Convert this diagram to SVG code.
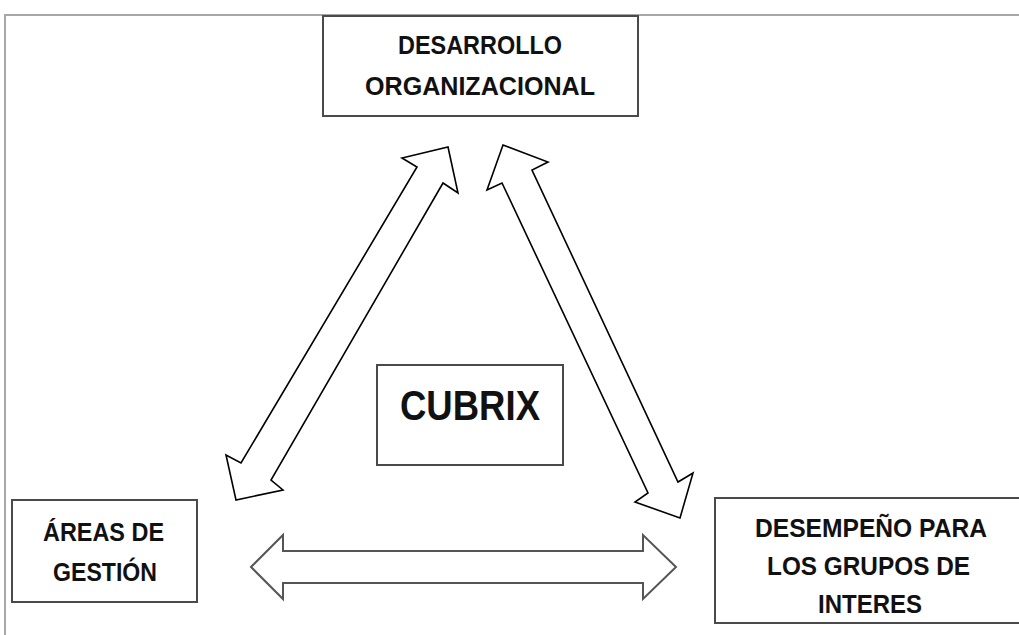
<svg xmlns="http://www.w3.org/2000/svg" width="1019" height="635" viewBox="0 0 1019 635">
<style>
.box{fill:#fff;stroke:#4a4a4a;stroke-width:2}
.t{font-family:"Liberation Sans",Arial,sans-serif;font-size:25px;font-weight:bold;fill:#111;text-anchor:start}
.arr{fill:#fff;stroke:#000;stroke-width:1.6;stroke-linejoin:miter}
.harr{fill:#fff;stroke:#555;stroke-width:2;stroke-linejoin:miter}
.frame{stroke:#a8a8a8;stroke-width:2;fill:none}
</style>
<rect width="1019" height="635" fill="#fff"/>
<path class="frame" d="M5,635 V15 H1019"/>
<g id="connectors">
<polygon class="arr" points="448,147 458,193 443,183 271,480 283,490 236,500 226,455 241,463 417,167 402,158"/>
<polygon class="arr" points="503,145 548,162 532,170 678,482 693,473 680,518 635,502 648,493 502,183 487,190"/>
<polygon class="harr" points="251,567 283,535 283,551 643,551 643,535 676,567 643,599 643,583 283,583 283,599"/>
</g>
<g id="desarrollo">
<rect class="box" x="323" y="16" width="315" height="100"/>
<text class="t" x="398" y="54" textLength="164" lengthAdjust="spacingAndGlyphs">DESARROLLO</text>
<text class="t" x="365" y="95" textLength="230" lengthAdjust="spacingAndGlyphs">ORGANIZACIONAL</text>
</g>
<g id="cubrix">
<rect class="box" x="377" y="365" width="186" height="100"/>
<text class="t" x="400" y="420" style="font-size:42px" textLength="140" lengthAdjust="spacingAndGlyphs">CUBRIX</text>
</g>
<g id="areas">
<rect class="box" x="12" y="500" width="185" height="102"/>
<text class="t" x="43" y="541" textLength="121" lengthAdjust="spacingAndGlyphs">ÁREAS DE</text>
<text class="t" x="53" y="581" textLength="104" lengthAdjust="spacingAndGlyphs">GESTIÓN</text>
</g>
<g id="desempeno">
<rect class="box" x="715" y="498" width="320" height="125"/>
<text class="t" x="755" y="537" textLength="232" lengthAdjust="spacingAndGlyphs">DESEMPEÑO PARA</text>
<text class="t" x="767" y="575" textLength="203" lengthAdjust="spacingAndGlyphs">LOS GRUPOS DE</text>
<text class="t" x="818" y="613" textLength="104" lengthAdjust="spacingAndGlyphs">INTERES</text>
</g>
</svg>
